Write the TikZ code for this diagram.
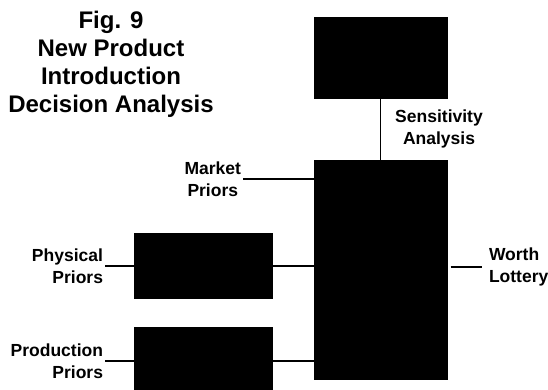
\documentclass[tikz,border=0pt]{standalone}
\usepackage{fontspec}
\setmainfont{Liberation Sans}
\tikzset{
  blackbox/.style={fill=black, draw=none, inner sep=0pt, outer sep=0pt},
  lbl/.style={inner sep=2pt, outer sep=0pt, font=\bfseries\fontsize{17.5}{22}\selectfont},
  link/.style={line width=1.7pt}
}
\begin{document}
\begin{tikzpicture}[x=1pt, y=-1pt]
	\useasboundingbox (0,0) rectangle (548,389);
	% Titel
	\node[align=center, inner sep=0pt, font=\bfseries\fontsize{24}{28}\selectfont] (title) at (111,64.5)
		{Fig. 9\\New Product\\Introduction\\Decision Analysis};
	% Kaesten
	\node[blackbox, minimum width=134pt, minimum height=82pt] (sens) at (380.5,58) {};
	\node[blackbox, minimum width=134pt, minimum height=220pt] (main) at (380.5,270) {};
	\node[blackbox, minimum width=139pt, minimum height=66pt] (phys) at (203.5,266) {};
	\node[blackbox, minimum width=139pt, minimum height=68pt] (prod) at (203.5,361) {};
	% Beschriftungen
	\node[lbl, align=center, anchor=east] (market) at (243,179) {Market\\Priors};
	\node[lbl, align=right, anchor=east] (physlbl) at (105,266) {Physical\\Priors};
	\node[lbl, align=right, anchor=east] (prodlbl) at (105,361) {Production\\Priors};
	\node[lbl, align=left, anchor=west] (worth) at (487,267) {Worth\\Lottery};
	\node[lbl, align=center] (senslbl) at (439,129) {Sensitivity\\Analysis};
	% Verbindungen
	\draw[link] (sens.south) -- (main.north);
	\draw[link] (market.east) -- (main.west |- market.east);
	\draw[link] (physlbl.east) -- (phys.west);
	\draw[link] (phys.east) -- (main.west |- phys.east);
	\draw[link] (prodlbl.east) -- (prod.west);
	\draw[link] (prod.east) -- (main.west |- prod.east);
	\draw[link, shorten <=3pt, shorten >=5pt] (main.east |- worth.west) -- (worth.west);
\end{tikzpicture}
\end{document}
